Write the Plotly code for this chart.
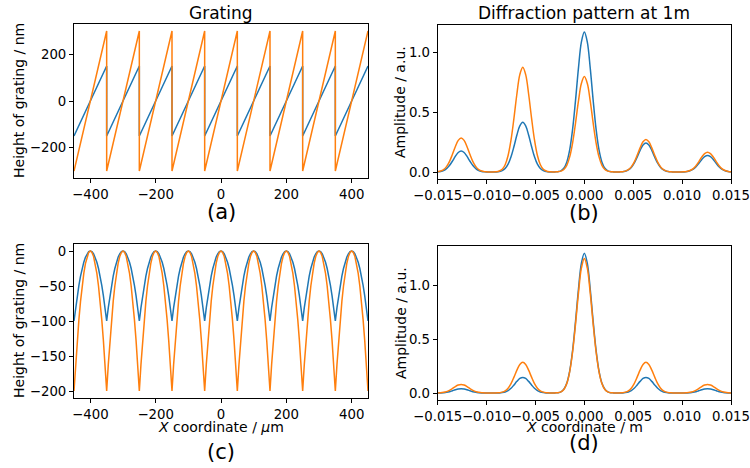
import numpy as np
import plotly.graph_objects as go

W, H = 750, 468
BLUE = "#1f77b4"
ORANGE = "#ff7f0e"
FONT = "DejaVu Sans"

# ---------------- data ----------------
# (a) blazed (sawtooth) grating profiles, vertices in um / nm
saw_x = [-450, -350, -350, -250, -250, -150, -150, -50, -50,
         50, 50, 150, 150, 250, 250, 350, 350, 450]
saw_blue = [-150, 150, -150, 150, -150, 150, -150, 150, -150,
            150, -150, 150, -150, 150, -150, 150, -150, 150]
saw_orange = [-300, 300, -300, 300, -300, 300, -300, 300, -300,
              300, -300, 300, -300, 300, -300, 300, -300, 300]

# (c) curved (lens-like) grating profiles, sampled every 5 um
arc_x = np.arange(-450, 451, 5)
arc_blue = [
    -100, -81, -64, -49, -36, -25, -16, -9, -4, -1, 0, -1, -4, -9, -16, -25, -36, -49, -64, -81,
    -100, -81, -64, -49, -36, -25, -16, -9, -4, -1, 0, -1, -4, -9, -16, -25, -36, -49, -64, -81,
    -100, -81, -64, -49, -36, -25, -16, -9, -4, -1, 0, -1, -4, -9, -16, -25, -36, -49, -64, -81,
    -100, -81, -64, -49, -36, -25, -16, -9, -4, -1, 0, -1, -4, -9, -16, -25, -36, -49, -64, -81,
    -100, -81, -64, -49, -36, -25, -16, -9, -4, -1, 0, -1, -4, -9, -16, -25, -36, -49, -64, -81,
    -100, -81, -64, -49, -36, -25, -16, -9, -4, -1, 0, -1, -4, -9, -16, -25, -36, -49, -64, -81,
    -100, -81, -64, -49, -36, -25, -16, -9, -4, -1, 0, -1, -4, -9, -16, -25, -36, -49, -64, -81,
    -100, -81, -64, -49, -36, -25, -16, -9, -4, -1, 0, -1, -4, -9, -16, -25, -36, -49, -64, -81,
    -100, -81, -64, -49, -36, -25, -16, -9, -4, -1, 0, -1, -4, -9, -16, -25, -36, -49, -64, -81,
    -100]
arc_orange = [
    -200, -162, -128, -98, -72, -50, -32, -18, -8, -2, 0, -2, -8, -18, -32, -50, -72, -98, -128, -162,
    -200, -162, -128, -98, -72, -50, -32, -18, -8, -2, 0, -2, -8, -18, -32, -50, -72, -98, -128, -162,
    -200, -162, -128, -98, -72, -50, -32, -18, -8, -2, 0, -2, -8, -18, -32, -50, -72, -98, -128, -162,
    -200, -162, -128, -98, -72, -50, -32, -18, -8, -2, 0, -2, -8, -18, -32, -50, -72, -98, -128, -162,
    -200, -162, -128, -98, -72, -50, -32, -18, -8, -2, 0, -2, -8, -18, -32, -50, -72, -98, -128, -162,
    -200, -162, -128, -98, -72, -50, -32, -18, -8, -2, 0, -2, -8, -18, -32, -50, -72, -98, -128, -162,
    -200, -162, -128, -98, -72, -50, -32, -18, -8, -2, 0, -2, -8, -18, -32, -50, -72, -98, -128, -162,
    -200, -162, -128, -98, -72, -50, -32, -18, -8, -2, 0, -2, -8, -18, -32, -50, -72, -98, -128, -162,
    -200, -162, -128, -98, -72, -50, -32, -18, -8, -2, 0, -2, -8, -18, -32, -50, -72, -98, -128, -162,
    -200]

# (b), (d) diffraction patterns at 1 m, sampled every 0.3 mm
screen_x = np.linspace(-0.015, 0.015, 101)
diff_b_blue = [
    0.002, 0.005, 0.012, 0.028, 0.054, 0.090, 0.130, 0.163, 0.175,
    0.163, 0.130, 0.090, 0.054, 0.028, 0.012, 0.005, 0.002,
    0.000, 0.000, 0.000, 0.001,
    0.004, 0.011, 0.029, 0.065, 0.127, 0.213, 0.309, 0.385, 0.415,
    0.385, 0.309, 0.213, 0.127, 0.065, 0.029, 0.011, 0.004,
    0.001, 0.000,
    0.001, 0.003, 0.010, 0.031, 0.082, 0.184, 0.358, 0.601, 0.870, 1.087, 1.170,
    1.087, 0.870, 0.601, 0.358, 0.184, 0.082, 0.031, 0.010, 0.003, 0.001,
    0.000, 0.001,
    0.002, 0.007, 0.017, 0.038, 0.074, 0.124, 0.180, 0.225, 0.242,
    0.225, 0.180, 0.124, 0.074, 0.038, 0.017, 0.007, 0.002,
    0.001, 0.000, 0.000, 0.000,
    0.001, 0.004, 0.010, 0.022, 0.042, 0.071, 0.103, 0.128, 0.138,
    0.128, 0.103, 0.071, 0.042, 0.022, 0.010, 0.004, 0.001]
diff_b_orange = [
    0.003, 0.008, 0.020, 0.045, 0.087, 0.146, 0.211, 0.264, 0.284,
    0.264, 0.211, 0.146, 0.087, 0.045, 0.020, 0.008, 0.003,
    0.001, 0.000, 0.001, 0.002,
    0.008, 0.023, 0.061, 0.138, 0.268, 0.450, 0.652, 0.814, 0.876,
    0.814, 0.652, 0.450, 0.268, 0.138, 0.061, 0.023, 0.008,
    0.002, 0.001,
    0.001, 0.002, 0.007, 0.021, 0.056, 0.126, 0.244, 0.410, 0.594, 0.741, 0.798,
    0.741, 0.594, 0.410, 0.244, 0.126, 0.056, 0.021, 0.007, 0.002, 0.001,
    0.000, 0.001,
    0.002, 0.007, 0.019, 0.043, 0.083, 0.140, 0.202, 0.253, 0.272,
    0.253, 0.202, 0.140, 0.083, 0.043, 0.019, 0.007, 0.002,
    0.001, 0.000, 0.000, 0.000,
    0.002, 0.004, 0.012, 0.026, 0.051, 0.085, 0.124, 0.154, 0.166,
    0.154, 0.124, 0.085, 0.051, 0.026, 0.012, 0.004, 0.002]
diff_d_blue = [
    0.000, 0.001, 0.003, 0.006, 0.012, 0.021, 0.030, 0.037, 0.040,
    0.037, 0.030, 0.021, 0.012, 0.006, 0.003, 0.001, 0.000,
    0.000, 0.000, 0.000, 0.000,
    0.001, 0.004, 0.010, 0.023, 0.044, 0.075, 0.108, 0.135, 0.145,
    0.135, 0.108, 0.075, 0.044, 0.023, 0.010, 0.004, 0.001,
    0.000, 0.000,
    0.001, 0.003, 0.011, 0.035, 0.091, 0.204, 0.397, 0.667, 0.966, 1.206, 1.298,
    1.206, 0.966, 0.667, 0.397, 0.204, 0.091, 0.035, 0.011, 0.003, 0.001,
    0.000, 0.000,
    0.001, 0.004, 0.010, 0.023, 0.044, 0.075, 0.108, 0.135, 0.145,
    0.135, 0.108, 0.075, 0.044, 0.023, 0.010, 0.004, 0.001,
    0.000, 0.000, 0.000, 0.000,
    0.000, 0.001, 0.003, 0.006, 0.012, 0.021, 0.030, 0.037, 0.040,
    0.037, 0.030, 0.021, 0.012, 0.006, 0.003, 0.001, 0.000]
diff_d_orange = [
    0.001, 0.002, 0.006, 0.013, 0.025, 0.041, 0.060, 0.074, 0.080,
    0.074, 0.060, 0.041, 0.025, 0.013, 0.006, 0.002, 0.001,
    0.000, 0.000, 0.000, 0.001,
    0.003, 0.008, 0.020, 0.045, 0.087, 0.147, 0.212, 0.265, 0.285,
    0.265, 0.212, 0.147, 0.087, 0.045, 0.020, 0.008, 0.003,
    0.001, 0.000,
    0.001, 0.003, 0.011, 0.033, 0.087, 0.197, 0.383, 0.642, 0.930, 1.161, 1.250,
    1.161, 0.930, 0.642, 0.383, 0.197, 0.087, 0.033, 0.011, 0.003, 0.001,
    0.000, 0.001,
    0.003, 0.008, 0.020, 0.045, 0.087, 0.147, 0.212, 0.265, 0.285,
    0.265, 0.212, 0.147, 0.087, 0.045, 0.020, 0.008, 0.003,
    0.001, 0.000, 0.000, 0.000,
    0.001, 0.002, 0.006, 0.013, 0.025, 0.041, 0.060, 0.074, 0.080,
    0.074, 0.060, 0.041, 0.025, 0.013, 0.006, 0.002, 0.001]

# tick labels
um_ticks = [-400, -200, 0, 200, 400]
um_ticktext = ["\u2212400", "\u2212200", "0", "200", "400"]
m_ticks = [-0.015, -0.010, -0.005, 0.0, 0.005, 0.010, 0.015]
m_ticktext = ["\u22120.015", "\u22120.010", "\u22120.005", "0.000", "0.005", "0.010", "0.015"]
a_yticks = [-200, 0, 200]
a_yticktext = ["\u2212200", "0", "200"]
c_yticks = [0, -50, -100, -150, -200]
c_yticktext = ["0", "\u221250", "\u2212100", "\u2212150", "\u2212200"]
amp_ticks = [0.0, 0.5, 1.0]
amp_ticktext = ["0.0", "0.5", "1.0"]

# ---------------- figure ----------------
fig = go.Figure()

def line(x, y, color, xa, ya, shape="linear"):
    fig.add_trace(go.Scatter(x=x, y=y, mode="lines", xaxis=xa, yaxis=ya,
                             line=dict(color=color, width=1.5, shape=shape),
                             showlegend=False, hoverinfo="skip"))

line(saw_x, saw_blue, BLUE, "x", "y")
line(saw_x, saw_orange, ORANGE, "x", "y")
line(screen_x, diff_b_blue, BLUE, "x2", "y2", "spline")
line(screen_x, diff_b_orange, ORANGE, "x2", "y2", "spline")
line(arc_x, arc_blue, BLUE, "x3", "y3")
line(arc_x, arc_orange, ORANGE, "x3", "y3")
line(screen_x, diff_d_blue, BLUE, "x4", "y4", "spline")
line(screen_x, diff_d_orange, ORANGE, "x4", "y4", "spline")

def px_dom(a, b, total, flip=False):
    if flip:
        return [1 - b / total, 1 - a / total]
    return [a / total, b / total]

tickfont = dict(family=FONT, size=13.3, color="black")
axis_common = dict(showline=True, mirror=True, linecolor="black", linewidth=1,
                   ticks="outside", ticklen=4, tickwidth=1, tickcolor="black",
                   showgrid=False, zeroline=False, tickfont=tickfont,
                   tickmode="array", tickangle=0, fixedrange=True,
                   ticklabeloverflow="allow")

L1, R1 = 74, 368
L2, R2 = 437.7, 731

fig.update_layout(
    width=W, height=H, autosize=False,
    margin=dict(l=0, r=0, t=0, b=0, autoexpand=False),
    paper_bgcolor="white", plot_bgcolor="white",
    font=dict(family=FONT, color="black"),
    xaxis=dict(domain=px_dom(L1, R1, W), range=[-450, 450], anchor="y",
               tickvals=um_ticks, ticktext=um_ticktext, **axis_common),
    yaxis=dict(domain=px_dom(24, 178, H, True), range=[-330, 330], anchor="x",
               tickvals=a_yticks, ticktext=a_yticktext, **axis_common),
    xaxis2=dict(domain=px_dom(L2, R2, W), range=[-0.015, 0.015], anchor="y2",
                tickvals=m_ticks, ticktext=m_ticktext, **axis_common),
    yaxis2=dict(domain=px_dom(25, 179, H, True), range=[-0.0585, 1.2285], anchor="x2",
                tickvals=amp_ticks, ticktext=amp_ticktext, **axis_common),
    xaxis3=dict(domain=px_dom(L1, R1, W), range=[-450, 450], anchor="y3",
                tickvals=um_ticks, ticktext=um_ticktext, **axis_common),
    yaxis3=dict(domain=px_dom(244, 398, H, True), range=[-210, 10], anchor="x3",
                tickvals=c_yticks, ticktext=c_yticktext, **axis_common),
    xaxis4=dict(domain=px_dom(L2, R2, W), range=[-0.015, 0.015], anchor="y4",
                tickvals=m_ticks, ticktext=m_ticktext, **axis_common),
    yaxis4=dict(domain=px_dom(246, 400, H, True), range=[-0.065, 1.365], anchor="x4",
                tickvals=amp_ticks, ticktext=amp_ticktext, **axis_common),
)

def ann(text, xpx, ypx, size, angle=0):
    fig.add_annotation(text=text, xref="paper", yref="paper",
                       x=xpx / W, y=1 - ypx / H, xanchor="center", yanchor="middle",
                       showarrow=False, textangle=angle,
                       font=dict(family=FONT, size=size, color="black"))

# titles
ann("Grating", (L1 + R1) / 2, 13, 17)
ann("Diffraction pattern at 1m", (L2 + R2) / 2, 13, 17)
# y labels
ann("Height of grating / nm", 19, 101, 14, -90)
ann("Amplitude / a.u.", 400, 102, 14, -90)
ann("Height of grating / nm", 19, 321, 14, -90)
ann("Amplitude / a.u.", 401, 323, 14, -90)
# x labels
ann("<i>X</i> coordinate / <i>\u03bc</i>m", (L1 + R1) / 2, 427, 14)
ann("<i>X</i> coordinate / m", (L2 + R2) / 2, 427, 14)
# panel letters
ann("(a)", (L1 + R1) / 2, 212.5, 21)
ann("(b)", (L2 + R2) / 2, 213, 21)
ann("(c)", (L1 + R1) / 2, 452, 21)
ann("(d)", (L2 + R2) / 2, 443, 21)

fig.write_html(
    "out.html",
    config={"displayModeBar": False, "staticPlot": True},
    post_script="document.body.style.margin='0';document.body.style.overflow='hidden';",
)
